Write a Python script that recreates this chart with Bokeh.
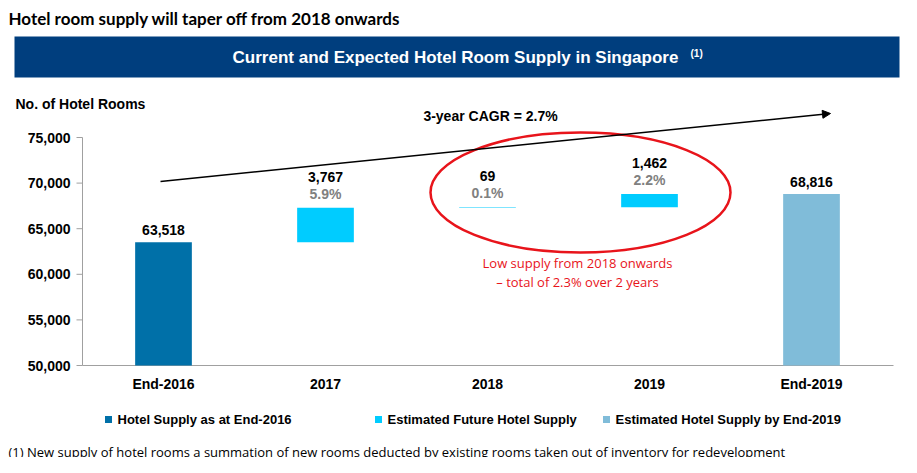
from bokeh.plotting import figure
from bokeh.models import Range1d, Arrow, NormalHead
from bokeh.core.properties import value
from bokeh.embed import file_html
from bokeh.resources import INLINE

# 数据
categories = ['End-2016', '2017', '2018', '2019', 'End-2019']
bottoms = [50000, 63518, 67285, 67354, 50000]
tops = [63518, 67285, 67354, 68816, 68816]
value_labels = ['63,518', '3,767', '69', '1,462', '68,816']
pct_labels = ['', '5.9%', '0.1%', '2.2%', '']
colors = ['#0070a8', '#00ccff', '#00ccff', '#00ccff', '#80bcd9']
y_ticks = [50000, 55000, 60000, 65000, 70000, 75000]
legend_labels = ['Hotel Supply as at End-2016', 'Estimated Future Hotel Supply',
                 'Estimated Hotel Supply by End-2019']
legend_colors = ['#0070a8', '#00ccff', '#80bcd9']

W, H = 901, 457
K = 25000 / 228.0          # 每像素房间数
Y_TOP = 75000 + 137 * K


def px(page_x):
    return (page_x - 82) / 162.0


def py(page_y):
    return Y_TOP - page_y * K


p = figure(width=W, height=H, output_backend="svg", toolbar_location=None,
           x_range=Range1d(px(0), px(W)), y_range=Range1d(py(H), Y_TOP),
           min_border=0)
p.axis.visible = False
p.grid.visible = False
p.outline_line_color = None

# 标题
p.text([px(8)], [py(18)], text=["Hotel room supply will taper off from 2018 onwards"],
       text_font=value("Lato"), text_font_style="bold", text_font_size="17px",
       text_baseline="middle", text_color="black")
p.quad(left=[px(14)], right=[px(899)], bottom=[py(77)], top=[py(36)],
       fill_color="#003e7e", line_color=None)
p.text([px(455)], [py(57)], text=["Current and Expected Hotel Room Supply in Singapore"],
       text_font=value("Liberation Sans"), text_font_style="bold", text_font_size="17px",
       text_align="center", text_baseline="middle", text_color="white")
p.text([px(690)], [py(53)], text=["(1)"], text_font=value("Liberation Sans"),
       text_font_style="bold", text_font_size="10px", text_baseline="middle", text_color="white")
p.text([px(15)], [py(103)], text=["No. of Hotel Rooms"], text_font=value("Liberation Sans"),
       text_font_style="bold", text_font_size="14px", text_baseline="middle")

# 坐标轴
x0 = px(82)
p.segment([x0], [50000], [x0], [75000], line_color="#a0a0a0")
p.segment([x0], [50000], [px(893)], [50000], line_color="#a0a0a0")
p.segment([px(76)] * len(y_ticks), y_ticks, [x0] * len(y_ticks), y_ticks, line_color="#a0a0a0")
p.text([px(70)] * len(y_ticks), y_ticks, text=['{:,}'.format(t) for t in y_ticks],
       text_font=value("Liberation Sans"), text_font_style="bold", text_font_size="14px",
       text_align="right", text_baseline="middle")

# 柱子
xs = [i + 0.5 for i in range(len(categories))]
p.vbar(x=xs, bottom=bottoms, top=tops, width=0.35, fill_color=colors, line_color=None)
p.text(xs, [py(383)] * len(xs), text=categories, text_font=value("Liberation Sans"),
       text_font_style="bold", text_font_size="14px", text_align="center", text_baseline="middle")

lab_y = []
for t, pc in zip(tops, pct_labels):
    lab_y.append(t + (26 if pc else 7) * K)
p.text(xs, lab_y, text=value_labels, text_font=value("Liberation Sans"),
       text_font_style="bold", text_font_size="14px", text_align="center", text_baseline="bottom")
p.text(xs, [t + 6 * K for t in tops], text=pct_labels, text_font=value("Liberation Sans"),
       text_font_style="bold", text_font_size="14px", text_align="center",
       text_baseline="bottom", text_color="#808080")

# CAGR 箭头
p.add_layout(Arrow(end=NormalHead(size=8, fill_color="black", line_color="black"),
                   x_start=px(160), y_start=py(181), x_end=px(830), y_end=py(113),
                   line_color="black", line_width=1.5))
p.text([px(490)], [py(115)], text=["3-year CAGR = 2.7%"], text_font=value("Liberation Sans"),
       text_font_style="bold", text_font_size="14px", text_align="center", text_baseline="middle")

# 红色椭圆
p.ellipse(x=[px(580)], y=[py(192)], width=300 / 162.0, height=120 * K,
          fill_color=None, line_color="#e8141b", line_width=2.5)
p.text([px(577)] * 2, [py(262), py(281)],
       text=["Low supply from 2018 onwards", "\u2013 total of 2.3% over 2 years"],
       text_font=value("Open Sans"), text_font_size="13px", text_align="center",
       text_baseline="middle", text_color="#e8141b")

# 图例
lx = [108, 378, 606]
p.rect([px(v) for v in lx], [py(419)] * 3, width=7 / 162.0, height=7 * K,
       fill_color=legend_colors, line_color=None)
p.text([px(v + 9) for v in lx], [py(419)] * 3, text=legend_labels,
       text_font=value("Liberation Sans"), text_font_style="bold", text_font_size="13px",
       text_baseline="middle")

# 脚注
p.text([px(8)], [py(451)],
       text=["(1) New supply of hotel rooms a summation of new rooms deducted by existing rooms taken out of inventory for redevelopment"],
       text_font=value("Open Sans"), text_font_size="13px", text_baseline="middle")

open("out.html", "w").write(file_html(p, INLINE))
